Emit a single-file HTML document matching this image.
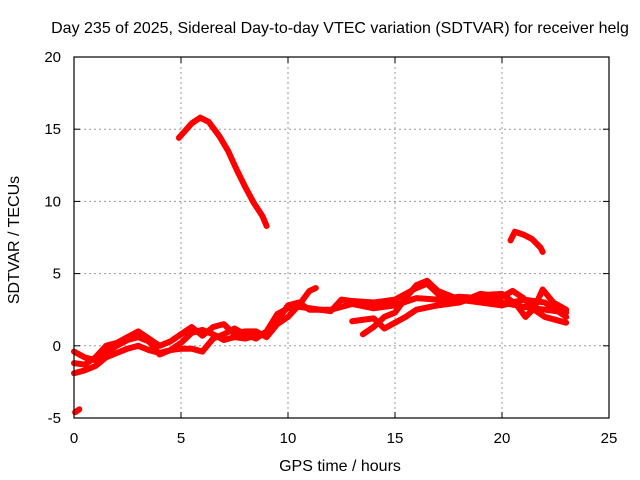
<!DOCTYPE html>
<html><head><meta charset="utf-8"><style>
body{margin:0;background:#fff;}
svg{display:block;font-family:"Liberation Sans",sans-serif;font-size:14px;}
</style></head><body>
<svg id="chart" width="640" height="480">
<text x="340" y="33" text-anchor="middle" font-size="16">Day 235 of 2025, Sidereal Day-to-day VTEC variation (SDTVAR) for receiver helg</text>
<g id="grid"></g>
<g id="series"></g>
<rect x="74" y="57" width="535" height="361" fill="none" stroke="#000" stroke-width="1.2"/>
<g id="axes"></g>
<text x="340" y="471" text-anchor="middle" font-size="16">GPS time / hours</text>
<text transform="translate(19,240) rotate(-90)" text-anchor="middle" font-size="16">SDTVAR / TECUs</text>
</svg>
<script>
const xTicks=[0,5,10,15,20,25];
const yTicks=[-5,0,5,10,15,20];
const arc1=[[4.9,14.4],[5.2,14.9],[5.5,15.4],[5.9,15.8],[6.3,15.5],[6.8,14.5],[7.2,13.5],[7.6,12.2],[8.0,11.0],[8.4,9.9],[8.8,9.0],[9.0,8.3]];
const arc2=[[20.4,7.3],[20.6,7.9],[21.0,7.7],[21.4,7.4],[21.8,6.8],[21.9,6.5]];
const dot=[[0.05,-4.6],[0.25,-4.4]];
const traceA=[[0,-1.9],[0.5,-1.7],[1,-1.4],[1.5,-0.8],[2,-0.5],[2.5,-0.2],[3,0],[3.5,-0.3],[4,-0.5],[4.5,-0.3],[5,0.2],[5.5,0.9],[6,1.1],[6.5,0.8],[7,0.4],[7.5,0.6],[8,0.5],[8.5,0.7],[9,0.9],[9.5,1.7],[10,2.8],[10.5,3.0],[11,2.5],[12,2.5],[13,2.9],[14,2.6],[15,2.8],[16,3.3],[17,3.2],[18,3.4],[19,3.3],[20,3.0],[21,2.7],[22,2.5],[23,2.3]];
const traceB=[[0,-0.4],[0.5,-0.8],[1,-1.0],[1.5,-0.5],[2,0],[2.5,0.4],[3,0.6],[3.5,0.3],[4,-0.6],[4.5,-0.3],[5,-0.2],[5.5,-0.2],[6,-0.4],[6.5,0.5],[7,0.8],[7.5,1.2],[8,0.8],[8.5,0.5],[9,1.0],[9.5,2.2],[10,2.6],[10.5,2.7],[11,2.6],[12,2.4],[12.5,3.2],[13,3.1],[14,3.0],[15,3.2],[16,4.0],[16.5,4.3],[17,3.6],[18,3.0],[19,3.6],[20,3.4],[20.5,3.8],[21,3.3],[21.5,2.5],[22,2.0],[23,1.6]];
const traceC=[[13.5,0.8],[14,1.3],[14.5,2.0],[15,2.3],[15.5,3.3],[16,4.2],[16.5,4.5],[17,3.8],[18,3.2],[19,3.0],[20,2.8],[21,3.2],[22,3.0],[23,2.0]];
const traceD=[[13,1.7],[14,1.9],[14.5,1.2],[15,1.6],[15.5,2.0],[16,2.5],[17,2.8],[18,3.0],[19,3.5],[20,3.6],[20.7,2.8],[21.1,2.0],[21.5,2.6],[21.9,3.9],[22.4,3.0],[23,2.5]];
const traceE=[[0,-1.2],[0.5,-1.3],[1,-0.8],[1.5,0],[2,0.2],[2.5,0.6],[3,1.0],[3.5,0.5],[4,0],[4.5,0.3],[5,0.8],[5.5,1.3],[6,0.7],[6.5,1.3],[7,1.5],[7.5,0.8],[8,1.0],[8.5,1.0],[9,0.6],[9.5,1.5],[10,2.0],[10.5,2.8],[11,3.8],[11.3,4.0]];
const X=h=>74+h*535/25, Y=v=>57+(20-v)*361/25;
const NS="http://www.w3.org/2000/svg";
const grid=document.getElementById('grid'),axes=document.getElementById('axes'),ser=document.getElementById('series');
function mk(tag,at,parent){const e=document.createElementNS(NS,tag);for(const k in at)e.setAttribute(k,at[k]);parent.appendChild(e);return e;}
xTicks.forEach(t=>{const x=X(t);
 if(t>0&&t<25){const g=mk('line',{x1:x,x2:x,y1:57,y2:418,stroke:'#999','stroke-dasharray':'2,3'},grid);
 
 }
 const tk=mk('line',{x1:x,x2:x,y1:418,y2:412,stroke:'#000'},axes);
 
 
 const tk2=mk('line',{x1:x,x2:x,y1:57,y2:63,stroke:'#000'},axes);
 
 
 const l=mk('text',{x:x,y:443,'text-anchor':'middle','font-size':15},axes);l.textContent=t;
 
 });
yTicks.forEach(t=>{const y=Y(t);
 if(t>-5&&t<20){const g=mk('line',{x1:74,x2:609,y1:y,y2:y,stroke:'#999','stroke-dasharray':'2,3'},grid);
 
 }
 const tk=mk('line',{x1:74,x2:80,y1:y,y2:y,stroke:'#000'},axes);
 
 
 const tk2=mk('line',{x1:603,x2:609,y1:y,y2:y,stroke:'#000'},axes);
 
 
 const l=mk('text',{x:61,y:y+5,'text-anchor':'end','font-size':15},axes);l.textContent=t;
 
 });
[['arc-1',arc1],['arc-2',arc2],['dot',dot],['trace-a',traceA],['trace-b',traceB],['trace-c',traceC],['trace-d',traceD],['trace-e',traceE]].forEach(([n,d])=>{
 const p=mk('polyline',{points:d.map(q=>X(q[0])+','+Y(q[1])).join(' '),fill:'none',stroke:'#f00','stroke-width':6,'stroke-linejoin':'round','stroke-linecap':'round'},ser);
 
 });
</script>
</body></html>
